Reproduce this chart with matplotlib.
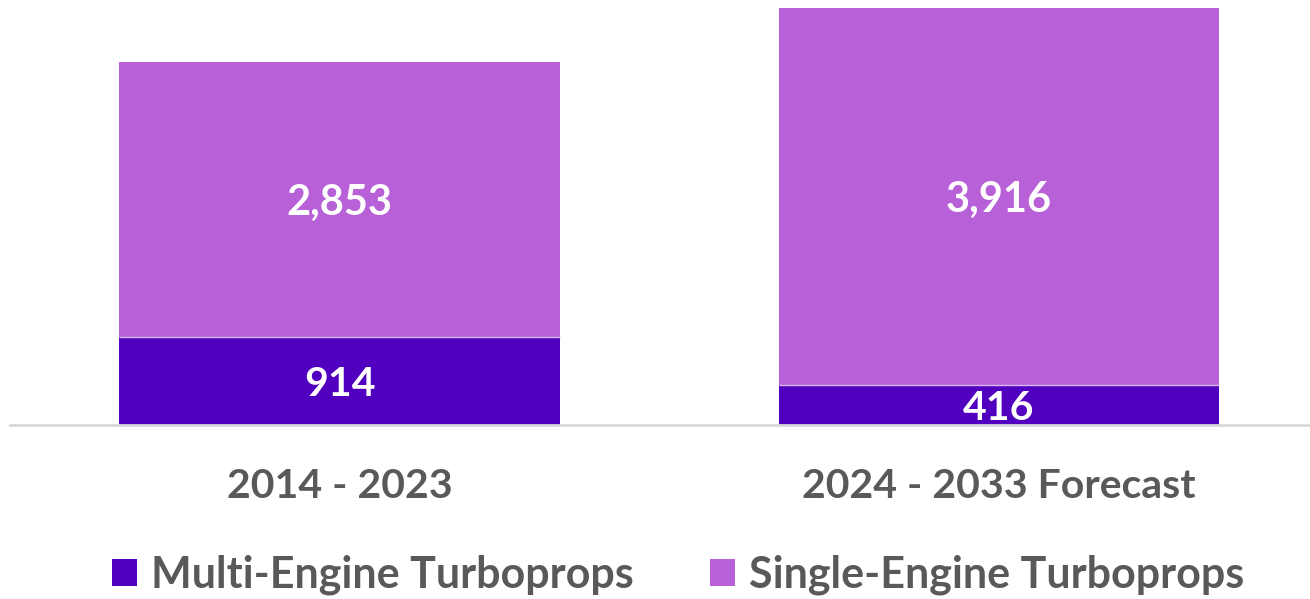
import numpy as np
import matplotlib.pyplot as plt

plt.rcParams['font.family'] = ['Lato', 'DejaVu Sans']

# ------------------------
# Deliveries by period
periods = ["2014 - 2023", "2024 - 2033 Forecast"]
multi_engine = [914, 416]
single_engine = [2853, 3916]
series_names = ["Multi-Engine Turboprops", "Single-Engine Turboprops"]

dark = "#5000BE"
light = "#B760D8"
grey = "#595959"

fig = plt.figure(figsize=(13.10, 5.99), dpi=100)
ax = fig.add_axes([10 / 1310, 1 - 425 / 599, 1300 / 1310, 425 / 599])

x = np.arange(len(periods))
width = 0.668
b1 = ax.bar(x, multi_engine, width, color=dark, label=series_names[0])
b2 = ax.bar(x, single_engine, width, bottom=multi_engine, color=light,
            label=series_names[1])

# thin light seam between the stacked parts
ax.hlines(multi_engine, x - width / 2, x + width / 2, color="#D8B8EE", lw=1)

for i in range(len(periods)):
    ax.text(x[i], multi_engine[i] / 2, f"{multi_engine[i]:,}", ha="center",
            va="center_baseline", color="white", fontsize=29.5, fontweight="bold")
    ax.text(x[i], multi_engine[i] + single_engine[i] / 2,
            f"{single_engine[i]:,}", ha="center", va="center_baseline",
            color="white", fontsize=30, fontweight="bold")

ax.set_xlim(-0.5, 1.472)
ax.set_ylim(0, 4415)
for side in ["top", "right", "left"]:
    ax.spines[side].set_visible(False)
ax.spines["bottom"].set_color("#D9D9D9")
ax.spines["bottom"].set_linewidth(2)
ax.set_yticks([])
ax.set_xticks(x)
ax.set_xticklabels(periods, fontsize=29.5, fontweight="bold", color=grey)
ax.tick_params(axis="x", length=0, pad=31)

fig.legend(handles=[b1, b2], loc="center", bbox_to_anchor=(0.5176, 0.04),
           ncol=2, frameon=False, prop={"weight": "bold", "size": 31},
           handlelength=0.58, handleheight=0.58, handletextpad=0.33,
           columnspacing=1.77, labelcolor=grey)

plt.savefig("out.png", dpi=100)
